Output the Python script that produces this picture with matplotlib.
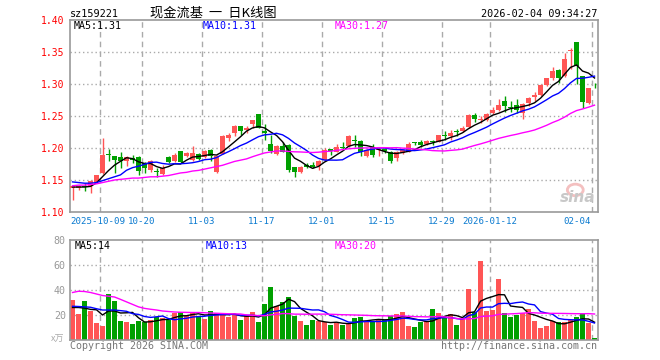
import numpy as np
import pandas as pd
import matplotlib
matplotlib.use("Agg")
import matplotlib.pyplot as plt
from matplotlib.patches import Ellipse

# daily bars 2025-09-24 .. 2026-02-04 (88 sessions)
opens = [1.138, 1.138, 1.141, 1.141, 1.147, 1.161, 1.190, 1.188, 1.186, 1.179,
         1.184, 1.186, 1.176, 1.165, 1.164, 1.159, 1.186, 1.179, 1.195, 1.187,
         1.181, 1.190, 1.186, 1.197, 1.163, 1.191, 1.216, 1.223, 1.234, 1.228,
         1.238, 1.253, 1.226, 1.207, 1.190, 1.203, 1.205, 1.170, 1.162, 1.173,
         1.173, 1.172, 1.181, 1.198, 1.194, 1.201, 1.203, 1.213, 1.211, 1.188,
         1.202, 1.197, 1.198, 1.194, 1.184, 1.192, 1.194, 1.209, 1.210, 1.206,
         1.211, 1.210, 1.220, 1.218, 1.226, 1.227, 1.233, 1.252, 1.243, 1.244,
         1.254, 1.259, 1.273, 1.264, 1.267, 1.254, 1.271, 1.279, 1.283, 1.298,
         1.309, 1.322, 1.313, 1.351, 1.365, 1.312, 1.271, 1.302]
highs = [1.141, 1.142, 1.145, 1.150, 1.158, 1.216, 1.198, 1.188, 1.194, 1.187,
         1.189, 1.188, 1.178, 1.181, 1.168, 1.173, 1.187, 1.192, 1.196, 1.193,
         1.203, 1.192, 1.197, 1.198, 1.189, 1.221, 1.224, 1.236, 1.235, 1.234,
         1.243, 1.253, 1.238, 1.221, 1.204, 1.210, 1.206, 1.171, 1.172, 1.176,
         1.178, 1.181, 1.200, 1.199, 1.207, 1.209, 1.220, 1.221, 1.212, 1.198,
         1.206, 1.200, 1.200, 1.195, 1.195, 1.198, 1.210, 1.210, 1.212, 1.212,
         1.213, 1.221, 1.226, 1.228, 1.229, 1.234, 1.253, 1.254, 1.250, 1.255,
         1.264, 1.276, 1.281, 1.274, 1.276, 1.270, 1.279, 1.288, 1.300, 1.310,
         1.327, 1.323, 1.348, 1.357, 1.366, 1.313, 1.294, 1.302]
lows = [1.119, 1.134, 1.133, 1.130, 1.146, 1.160, 1.180, 1.161, 1.168, 1.172,
        1.177, 1.158, 1.161, 1.163, 1.155, 1.158, 1.177, 1.178, 1.177, 1.186,
        1.180, 1.181, 1.184, 1.180, 1.161, 1.190, 1.211, 1.219, 1.220, 1.223,
        1.231, 1.231, 1.212, 1.192, 1.189, 1.193, 1.163, 1.154, 1.161, 1.168,
        1.168, 1.166, 1.180, 1.189, 1.193, 1.197, 1.202, 1.202, 1.188, 1.186,
        1.186, 1.187, 1.192, 1.177, 1.179, 1.190, 1.193, 1.205, 1.201, 1.204,
        1.205, 1.209, 1.213, 1.213, 1.219, 1.225, 1.231, 1.241, 1.239, 1.242,
        1.253, 1.258, 1.257, 1.256, 1.255, 1.246, 1.266, 1.273, 1.282, 1.297,
        1.307, 1.301, 1.311, 1.323, 1.300, 1.263, 1.269, 1.293]
closes = [1.141, 1.141, 1.139, 1.149, 1.158, 1.189, 1.189, 1.181, 1.179, 1.186,
          1.182, 1.164, 1.168, 1.179, 1.162, 1.168, 1.178, 1.189, 1.178, 1.192,
          1.192, 1.183, 1.196, 1.187, 1.187, 1.218, 1.221, 1.235, 1.227, 1.231,
          1.243, 1.232, 1.224, 1.196, 1.203, 1.194, 1.165, 1.163, 1.171, 1.171,
          1.171, 1.180, 1.197, 1.196, 1.202, 1.200, 1.218, 1.211, 1.193, 1.197,
          1.189, 1.198, 1.196, 1.180, 1.194, 1.197, 1.207, 1.208, 1.204, 1.211,
          1.210, 1.220, 1.219, 1.223, 1.225, 1.232, 1.252, 1.246, 1.245, 1.253,
          1.260, 1.267, 1.265, 1.263, 1.260, 1.269, 1.278, 1.283, 1.299, 1.309,
          1.320, 1.309, 1.339, 1.353, 1.328, 1.272, 1.293, 1.301]
# volume in 10k lots
volumes = [32.0, 20.8, 31.2, 23.2, 13.6, 11.2, 36.8, 31.2, 15.2, 14.4,
           12.8, 15.2, 14.4, 16.0, 18.4, 17.6, 16.0, 21.9, 22.4, 19.2,
           22.4, 19.2, 16.8, 23.2, 21.3, 21.3, 18.4, 20.0, 16.0, 19.2,
           22.4, 14.4, 28.8, 42.4, 27.2, 30.4, 34.4, 19.2, 15.2, 12.0,
           16.0, 15.2, 14.4, 12.0, 13.6, 12.0, 13.6, 17.6, 18.4, 15.2,
           15.2, 16.0, 16.0, 19.2, 20.8, 22.4, 11.2, 10.4, 14.4, 15.2,
           24.8, 21.6, 18.4, 20.8, 12.0, 16.8, 40.8, 22.4, 63.2, 23.2,
           24.0, 48.8, 21.6, 18.4, 20.0, 21.6, 24.8, 15.2, 9.6, 11.2,
           15.2, 14.4, 14.4, 16.0, 18.4, 21.6, 13.6, 1.6]

# moving-average values before a full window exists (they use older sessions)
ma5_head = [1.139, 1.139, 1.139, 1.140]
ma10_head = [1.147, 1.146, 1.145, 1.145, 1.146, 1.149, 1.152, 1.155, 1.158]
ma30_head = [1.141, 1.142, 1.142, 1.143, 1.144, 1.146, 1.148, 1.150, 1.151, 1.152,
             1.153, 1.153, 1.154, 1.155, 1.155, 1.156, 1.157, 1.159, 1.161, 1.162,
             1.164, 1.165, 1.167, 1.169, 1.171, 1.173, 1.176, 1.179, 1.181]
vma5_head = [26.0, 26.0, 25.5, 24.5]
vma10_head = [27.0, 26.8, 26.5, 26.2, 25.0, 24.0, 24.0, 24.0, 23.5]
vma30_head = [38.0, 39.0, 38.8, 38.0, 36.8, 35.6, 35.0, 34.4, 32.5, 30.5,
              28.5, 26.5, 25.3, 24.6, 24.0, 23.2, 22.8, 22.4, 22.2, 22.1,
              22.0, 22.0, 21.8, 21.6, 21.4, 21.2, 21.0, 20.9, 20.8]

date_idx = [5, 12, 22, 32, 42, 52, 62, 70, 87]
date_labels = ["2025-10-09", "10-20", "11-03", "11-17", "12-01", "12-15",
               "12-29", "2026-01-12", "02-04"]
price_ticks = [1.10, 1.15, 1.20, 1.25, 1.30, 1.35, 1.40]
vol_ticks = [20, 40, 60, 80]

UP = "#ff5555"
DOWN = "#00a000"
GRID = "#aaaaaa"
MONO = "DejaVu Sans Mono"
CJK = ["Noto Sans CJK SC", "DejaVu Sans"]


def moving(values, n, head):
    ma = pd.Series(values).rolling(n).mean().to_numpy()
    ma[:len(head)] = head
    return ma


def style_axes(ax):
    for s in ax.spines.values():
        s.set_color("#999999")
        s.set_linewidth(1.2)
    ax.tick_params(length=0)
    ax.set_xticks([])
    ax.set_xlim(-0.42, 87.58)
    for i in date_idx:
        ax.axvline(i - 0.42, color=GRID, lw=1.0, ls=(0, (4, 3)), zorder=0)


x = np.arange(len(closes))
o = np.array(opens)
c = np.array(closes)
up = c >= o
colors = np.where(up, UP, DOWN)

fig = plt.figure(figsize=(6.6, 3.6), dpi=100)
ax = fig.add_axes([70 / 660, 1 - 212 / 360, 528 / 660, 192 / 360])
axv = fig.add_axes([70 / 660, 1 - 340 / 360, 528 / 660, 100 / 360])

# --- price panel
style_axes(ax)
ax.set_ylim(1.10, 1.40)
ax.set_yticks(price_ticks)
ax.set_yticklabels([f"{t:.2f}" for t in price_ticks], color="red",
                   fontsize=7.0, family=MONO)
ax.tick_params(axis="y", pad=4)
for t in price_ticks[1:-1]:
    ax.axhline(t, color=GRID, lw=1.0, ls=(0, (1, 2)), zorder=0)

ax.vlines(x, lows, highs, colors=colors, lw=1.0, zorder=2)
body = np.maximum(np.abs(c - o), 0.0012)
ax.bar(x, body, bottom=np.minimum(o, c), width=0.83, color=colors,
       linewidth=0, zorder=3)

ax.plot(x, moving(closes, 5, ma5_head), color="black", lw=1.0, zorder=4)
ax.plot(x, moving(closes, 10, ma10_head), color="blue", lw=1.0, zorder=4)
ax.plot(x, moving(closes, 30, ma30_head), color="#ff00ff", lw=1.0, zorder=4)

ax.text(0.006, 0.969, "MA5:1.31", transform=ax.transAxes, color="black",
        fontsize=7.2, family=MONO, va="center")
ax.text(0.252, 0.969, "MA10:1.31", transform=ax.transAxes, color="blue",
        fontsize=7.2, family=MONO, va="center")
ax.text(0.502, 0.969, "MA30:1.27", transform=ax.transAxes, color="#ff00ff",
        fontsize=7.2, family=MONO, va="center")

# date labels under the price panel
xt = ax.get_xaxis_transform()
for k, (i, lab) in enumerate(zip(date_idx, date_labels)):
    pos, ha = i - 0.42, "center"
    if k == 0:
        pos, ha = -0.42, "left"
    elif k == len(date_idx) - 1:
        pos, ha = 86.4, "right"
    ax.text(pos, -0.047, lab, transform=xt, ha=ha, va="center",
            color="#0a7ad0", fontsize=6.6, family=MONO)

# sina watermark
ax.add_patch(Ellipse((0.957, 0.115), 0.03, 0.06, transform=ax.transAxes,
                     facecolor="none", edgecolor="#f4c0c0", lw=2))
ax.text(0.995, 0.035, "sina", transform=ax.transAxes, ha="right", va="bottom",
        color="#c8c8c8", fontsize=11, fontweight="bold", style="italic")

# --- volume panel
style_axes(axv)
axv.set_ylim(0, 80)
axv.set_yticks(vol_ticks)
axv.set_yticklabels([str(t) for t in vol_ticks], color="#999999",
                    fontsize=7.2, family=MONO)
axv.tick_params(axis="y", pad=3)
for t in vol_ticks[:-1]:
    axv.axhline(t, color=GRID, lw=1.0, ls=(0, (1, 2)), zorder=0)
axv.bar(x, volumes, width=0.83, color=colors, linewidth=0, zorder=2)
axv.plot(x, moving(volumes, 5, vma5_head), color="black", lw=1.0, zorder=3)
axv.plot(x, moving(volumes, 10, vma10_head), color="blue", lw=1.0, zorder=3)
axv.plot(x, moving(volumes, 30, vma30_head), color="#ff00ff", lw=1.0, zorder=3)
axv.text(0.009, 0.94, "MA5:14", transform=axv.transAxes, color="black",
         fontsize=7.2, family=MONO, va="center")
axv.text(0.256, 0.94, "MA10:13", transform=axv.transAxes, color="blue",
         fontsize=7.2, family=MONO, va="center")
axv.text(0.502, 0.94, "MA30:20", transform=axv.transAxes, color="#ff00ff",
         fontsize=7.2, family=MONO, va="center")

# --- header / footer texts
fig.text(70 / 660, 1 - 14 / 360, "sz159221", fontsize=7.3, family=MONO,
         va="center", ha="left")
fig.text(213 / 660, 1 - 13 / 360, "现金流基  一  日K线图", fontsize=9.5,
         family=CJK, va="center", ha="center")
fig.text(597 / 660, 1 - 14 / 360, "2026-02-04 09:34:27", fontsize=7.3,
         family=MONO, va="center", ha="right")
fig.text(64 / 660, 1 - 339 / 360, "x万", fontsize=6.5, color="#aaaaaa",
         family=CJK, va="center", ha="right")
fig.text(70 / 660, 1 - 346 / 360, "Copyright 2026 SINA.COM", fontsize=7.2,
         color="#777777", family=MONO, va="center", ha="left")
fig.text(597 / 660, 1 - 346 / 360, "http://finance.sina.com.cn", fontsize=7.2,
         color="#777777", family=MONO, va="center", ha="right")

fig.savefig("out.png", dpi=100, facecolor="white")
